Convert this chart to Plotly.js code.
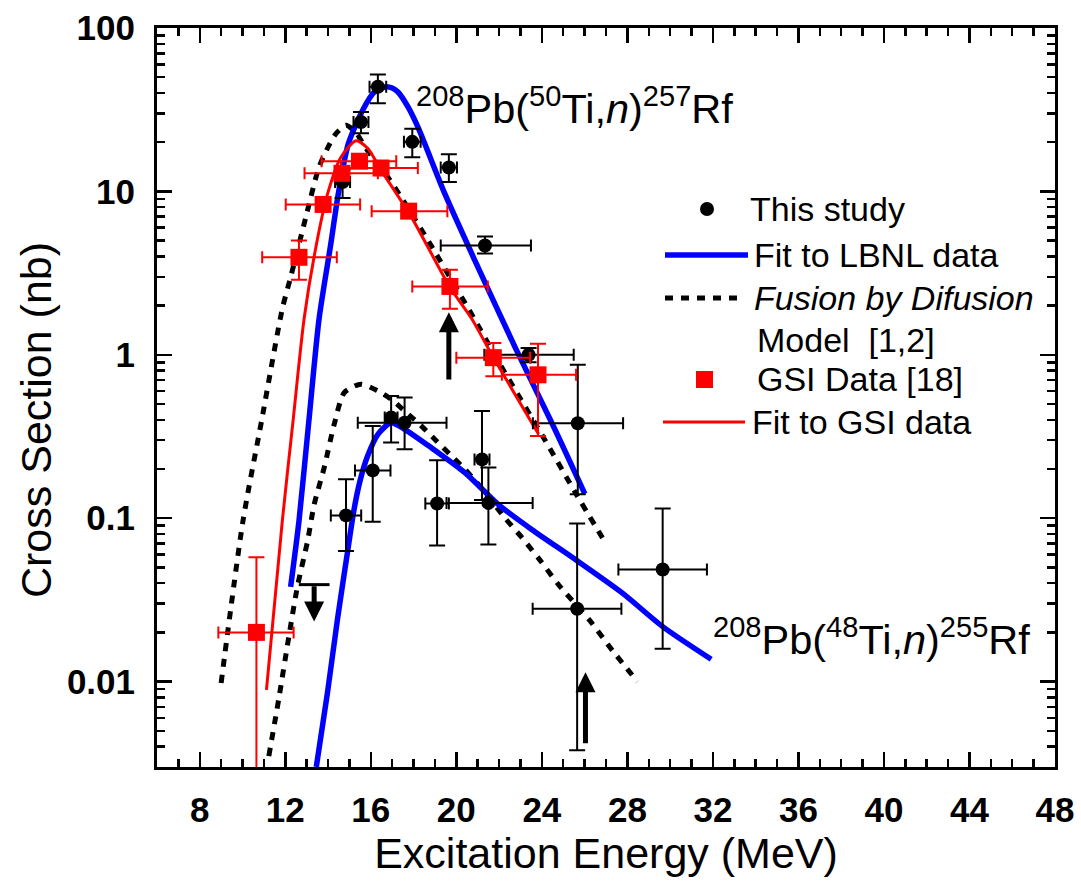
<!DOCTYPE html>
<html><head><meta charset="utf-8">
<script src="https://cdn.plot.ly/plotly-3.0.1.min.js"></script>
<style>html,body{margin:0;padding:0;background:#fff}#chart{width:1081px;height:882px}</style>
</head><body><div id="chart"></div>
<script>
// ---------- data ----------
// This study, 208Pb(50Ti,n)257Rf
const ti50E      = [14.68, 15.54, 16.33, 17.94, 19.65, 21.34, 23.38, 25.68];
const ti50S      = [11.4, 26.6, 43.7, 20.1, 14.0, 4.66, 1.0, 0.381];
const ti50SUp    = [2.2, 4.0, 8.3, 4.1, 2.9, 0.64, 0.1, 0.487];
const ti50SDown  = [2.3, 3.9, 9.1, 3.9, 2.6, 0.49, 0.1, 0.241];
const ti50EPlus  = [0.35, 0.35, 0.39, 0.39, 0.38, 2.15, 2.11, 2.12];
const ti50EMinus = [0.35, 0.35, 0.39, 0.39, 0.38, 2.07, 2.07, 2.10];
// This study, 208Pb(48Ti,n)255Rf
const ti48E      = [14.84, 16.09, 16.95, 17.58, 19.10, 21.20, 21.50, 25.65, 29.65];
const ti48S      = [0.104, 0.196, 0.413, 0.384, 0.123, 0.229, 0.124, 0.0279, 0.0485];
const ti48SUp    = [0.069, 0.171, 0.147, 0.163, 0.103, 0.224, 0.080, 0.0648, 0.0661];
const ti48SDown  = [0.041, 0.101, 0.123, 0.120, 0.055, 0.100, 0.055, 0.0241, 0.0326];
const ti48EPlus  = [0.71, 0.83, 0.30, 1.96, 0.55, 0.35, 2.07, 2.07, 2.07];
const ti48EMinus = [0.71, 0.83, 0.30, 2.19, 0.55, 0.35, 1.96, 2.08, 2.07];
// GSI data [18]
const gsiE      = [10.65, 12.64, 13.77, 14.65, 15.47, 16.48, 17.77, 19.70, 21.73, 23.82];
const gsiS      = [0.020, 3.95, 8.32, 12.9, 15.3, 13.9, 7.57, 2.62, 0.96, 0.754];
const gsiSUp    = [0.0377, 1.05, 0, 0, 0, 0, 0, 0.70, 0.22, 0.416];
const gsiSDown  = [0.0199, 1.07, 0, 0, 0, 0, 0, 0.71, 0.22, 0.436];
const gsiEPlus  = [1.74, 1.77, 1.73, 1.68, 1.72, 1.72, 1.81, 1.77, 1.72, 1.78];
const gsiEMinus = [1.78, 1.72, 1.75, 1.75, 1.77, 1.88, 1.73, 1.76, 1.73, 1.69];
// Fit to LBNL data (two reactions)
const fitTi50E = [12.25, 12.64, 13.10, 13.58, 14.13, 14.48, 14.95, 15.62, 16.17, 16.72, 17.00, 17.27, 17.74, 18.20, 19.46, 20.87, 22.75, 24.48, 26.01];
const fitTi50S = [0.038, 0.096, 0.39, 1.66, 4.78, 9.68, 19.6, 31.4, 40.6, 43.7, 42.9, 40.6, 32.9, 24.8, 9.68, 3.77, 1.11, 0.38, 0.141];
const fitTi48E = [13.45, 13.97, 14.44, 14.91, 15.20, 15.50, 15.85, 16.33, 16.95, 17.58, 18.83, 20.40, 21.97, 23.54, 25.57, 27.77, 29.65, 31.92];
const fitTi48S = [0.003, 0.0085, 0.024, 0.062, 0.110, 0.170, 0.240, 0.326, 0.384, 0.350, 0.270, 0.190, 0.121, 0.085, 0.0558, 0.0348, 0.0217, 0.0137];
// Fit to GSI data
const fitGsiE = [11.12, 11.86, 12.36, 12.88, 13.43, 13.98, 14.60, 15.31, 15.86, 16.48, 17.90, 19.70, 20.72, 21.66, 23.85];
const fitGsiS = [0.0089, 0.096, 0.39, 1.66, 4.55, 9.68, 16.2, 20.4, 18.3, 13.5, 6.96, 2.59, 1.66, 1.0, 0.326];
// Fusion by Diffusion model [1,2]
const fbdTi50E = [9.00, 10.02, 10.90, 11.86, 12.25, 12.96, 13.58, 14.13, 14.40, 14.84, 15.30, 15.78, 16.80, 17.42, 18.72, 20.60, 22.13, 24.17, 25.57, 26.98];
const fbdTi50S = [0.0098, 0.096, 0.40, 1.91, 2.98, 6.95, 14.1, 20.1, 22.8, 25.4, 22.9, 18.3, 12.2, 9.2, 4.9, 1.88, 0.836, 0.297, 0.143, 0.0705];
const fbdTi48E = [11.23, 11.70, 12.18, 12.57, 13.04, 13.35, 13.82, 14.29, 14.76, 15.54, 16.33, 16.95, 17.66, 18.36, 19.07, 19.78, 20.40, 21.03, 22.28, 23.07, 23.93, 24.79, 26.20, 27.30, 28.47];
const fbdTi48S = [0.0035, 0.0079, 0.0193, 0.0383, 0.0722, 0.121, 0.204, 0.376, 0.587, 0.661, 0.601, 0.535, 0.443, 0.367, 0.297, 0.240, 0.199, 0.161, 0.100, 0.076, 0.055, 0.039, 0.024, 0.0155, 0.010];
// arrows: energy, tail, tip; upper-limit cap
const arrowE    = [19.65, 26.04, 13.35];
const arrowTail = [0.69, 0.0041, 0.0392];
const arrowTip  = [1.82, 0.0114, 0.0233];
const limitE = [13.35];
const limitS = [0.0392];
// axis ticks
const xTicks = [8, 12, 16, 20, 24, 28, 32, 36, 40, 44, 48];
const yTicks = [0.01, 0.1, 1, 10, 100];
const yTickText = ['0.01', '0.1', '1', '10', '100'];
const legendLabels = ['This study', 'Fit to LBNL data', '<i>Fusion by Difusion</i>', 'Model  [1,2]', 'GSI Data [18]', 'Fit to GSI data'];

// ---------- layout helpers ----------
const W = 1081, H = 882, ML = 157, MR = 26, MT = 28, MB = 115;
const PW = W - ML - MR, PH = H - MT - MB;
const px = x => (x - ML) / PW;
const py = y => (H - MB - y) / PH;
const FONT = 'Arial, "Liberation Sans", Helvetica, sans-serif';
const BLUE = '#0000ff', RED = '#ff0000';

function errTrace(E, S, up, dn, ep, em, color, symbol, size, name) {
  return {
    x: E, y: S, type: 'scatter', mode: 'markers', name: name, showlegend: false,
    marker: {color: color, symbol: symbol, size: size},
    error_y: {type: 'data', symmetric: false, array: up, arrayminus: dn, color: color, thickness: 2, width: 8},
    error_x: {type: 'data', symmetric: false, array: ep, arrayminus: em, color: color, thickness: 2, width: 6}
  };
}
function lineTrace(E, S, color, width, dash) {
  return {x: E, y: S, type: 'scatter', mode: 'lines', showlegend: false, hoverinfo: 'skip',
    line: {color: color, width: width, dash: dash || 'solid', shape: 'spline', smoothing: 0.7}};
}

const DOT = '8px,8px';
const traces = [
  lineTrace(fbdTi50E, fbdTi50S, '#000', 5, DOT),
  lineTrace(fbdTi48E, fbdTi48S, '#000', 5, DOT),
  lineTrace(fitTi50E, fitTi50S, BLUE, 5.5),
  lineTrace(fitTi48E, fitTi48S, BLUE, 5.5),
  lineTrace(fitGsiE, fitGsiS, RED, 3),
  errTrace(ti50E, ti50S, ti50SUp, ti50SDown, ti50EPlus, ti50EMinus, '#000', 'circle', 14, 'This study'),
  errTrace(ti48E, ti48S, ti48SUp, ti48SDown, ti48EPlus, ti48EMinus, '#000', 'circle', 14, 'This study'),
  errTrace(gsiE, gsiS, gsiSUp, gsiSDown, gsiEPlus, gsiEMinus, RED, 'square', 17, 'GSI Data [18]'),
  {x: limitE, y: limitS, type: 'scatter', mode: 'markers', showlegend: false,
   marker: {symbol: 'line-ew', size: 22, line: {color: '#000', width: 3}}}
];

const annotations = [];
arrowE.forEach((e, i) => {
  annotations.push({x: e, y: Math.log10(arrowTip[i]), ax: e, ay: Math.log10(arrowTail[i]),
    xref: 'x', yref: 'y', axref: 'x', ayref: 'y', text: '', showarrow: true,
    arrowhead: 2, arrowwidth: 5, arrowsize: 0.8, arrowcolor: '#000'});
});
annotations.push({xref: 'paper', yref: 'paper', x: px(414), y: py(106), xanchor: 'left', yanchor: 'middle',
  text: '<sup>208</sup>Pb(<sup>50</sup>Ti,<i>n</i>)<sup>257</sup>Rf', showarrow: false,
  font: {family: FONT, size: 41.5, color: '#000'}});
annotations.push({xref: 'paper', yref: 'paper', x: px(711), y: py(637), xanchor: 'left', yanchor: 'middle',
  text: '<sup>208</sup>Pb(<sup>48</sup>Ti,<i>n</i>)<sup>255</sup>Rf', showarrow: false,
  font: {family: FONT, size: 41.5, color: '#000'}});
annotations.push({xref: 'paper', yref: 'paper', x: px(36), y: py(420), xanchor: 'center', yanchor: 'middle',
  textangle: -90, text: 'Cross Section (nb)', showarrow: false,
  font: {family: FONT, size: 43, color: '#000'}});

// custom legend
const legY = [209, 255, 298, 340, 379, 422];
const legX = [748, 752, 752, 755, 755, 750];
legendLabels.forEach((t, i) => {
  annotations.push({xref: 'paper', yref: 'paper', x: px(legX[i]), y: py(legY[i]), xanchor: 'left', yanchor: 'middle',
    text: t, showarrow: false, font: {family: FONT, size: 34, color: '#000'}});
});
const shapes = [
  {type: 'circle', xref: 'paper', yref: 'paper', x0: px(700), x1: px(714), y0: py(216), y1: py(202), fillcolor: '#000', line: {width: 0}},
  {type: 'line', xref: 'paper', yref: 'paper', x0: px(665), x1: px(748), y0: py(255), y1: py(255), line: {color: BLUE, width: 5.5}},
  {type: 'line', xref: 'paper', yref: 'paper', x0: px(665), x1: px(740), y0: py(298), y1: py(298), line: {color: '#000', width: 5, dash: DOT}},
  {type: 'rect', xref: 'paper', yref: 'paper', x0: px(696), x1: px(713), y0: py(388), y1: py(371), fillcolor: RED, line: {width: 0}},
  {type: 'line', xref: 'paper', yref: 'paper', x0: px(663), x1: px(745), y0: py(422), y1: py(422), line: {color: RED, width: 3}}
];

const axisCommon = {
  showline: true, linecolor: '#000', linewidth: 3, mirror: 'ticks',
  ticks: 'inside', ticklen: 15, tickwidth: 2.5, tickcolor: '#000',
  showgrid: false, zeroline: false,
  tickfont: {family: FONT, size: 35, color: '#000', weight: 'bold'}
};
const layout = {
  width: W, height: H, margin: {l: ML, r: MR, t: MT, b: MB},
  paper_bgcolor: '#fff', plot_bgcolor: '#fff', showlegend: false,
  xaxis: Object.assign({}, axisCommon, {
    range: [6, 48], tickmode: 'array', tickvals: xTicks, ticklabelstandoff: 10,
    minor: {dtick: 1, tick0: 0, ticks: 'inside', ticklen: 8, tickwidth: 2.5, tickcolor: '#000'},
    title: {text: 'Excitation Energy (MeV)', standoff: 9, font: {family: FONT, size: 43, color: '#000'}}
  }),
  yaxis: Object.assign({}, axisCommon, {
    type: 'log', range: [Math.log10(0.003), 2], tickmode: 'array', tickvals: yTicks, ticktext: yTickText,
    ticklabelstandoff: 12,
    minor: {dtick: 'D1', ticks: 'inside', ticklen: 8, tickwidth: 2.5, tickcolor: '#000'}
  }),
  annotations: annotations, shapes: shapes
};
Plotly.newPlot('chart', traces, layout, {displayModeBar: false, staticPlot: true});
</script></body></html>
